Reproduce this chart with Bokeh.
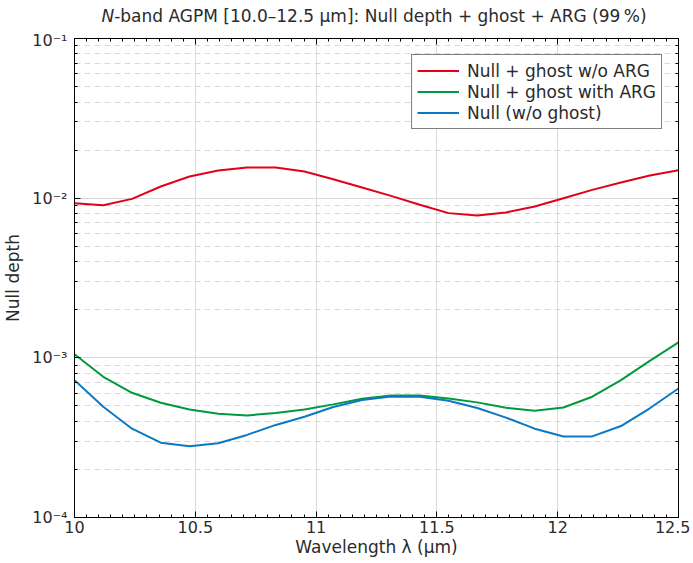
from bokeh.plotting import figure
from bokeh.layouts import column
from bokeh.models import (Range1d, LinearAxis, LogAxis, FixedTicker, SingleIntervalTicker,
                          CustomJSTickFormatter, Legend, LegendItem, Div)
from bokeh.embed import file_html
from bokeh.resources import INLINE

# ---- data ----
wavelength = [10.0, 10.119, 10.238, 10.357, 10.476, 10.595, 10.714, 10.833, 10.952, 11.071, 11.190,
              11.310, 11.429, 11.548, 11.667, 11.786, 11.905, 12.024, 12.143, 12.262, 12.381, 12.5]
null_ghost_no_arg = [9.30e-3, 9.04e-3, 9.90e-3, 1.183e-2, 1.366e-2, 1.489e-2, 1.555e-2, 1.555e-2,
                     1.468e-2, 1.314e-2, 1.166e-2, 1.034e-2, 9.09e-3, 8.06e-3, 7.79e-3, 8.14e-3,
                     8.87e-3, 1.000e-2, 1.127e-2, 1.253e-2, 1.386e-2, 1.497e-2]
null_ghost_arg = [1.054e-3, 7.61e-4, 6.04e-4, 5.23e-4, 4.75e-4, 4.47e-4, 4.36e-4, 4.51e-4,
                  4.75e-4, 5.11e-4, 5.54e-4, 5.81e-4, 5.81e-4, 5.57e-4, 5.26e-4, 4.87e-4,
                  4.66e-4, 4.89e-4, 5.71e-4, 7.25e-4, 9.58e-4, 1.25e-3]
null_only = [7.25e-4, 4.94e-4, 3.60e-4, 2.94e-4, 2.79e-4, 2.92e-4, 3.29e-4, 3.80e-4,
             4.28e-4, 4.92e-4, 5.44e-4, 5.73e-4, 5.71e-4, 5.39e-4, 4.85e-4, 4.22e-4,
             3.60e-4, 3.22e-4, 3.22e-4, 3.74e-4, 4.83e-4, 6.43e-4]
series_labels = ["Null + ghost w/o ARG", "Null + ghost with ARG", "Null (w/o ghost)"]
series_colors = ["#e2001a", "#009a3e", "#0a78c4"]
y_ticks = [1e-4, 1e-3, 1e-2, 1e-1]
y_minor = [m * d for d in (1e-4, 1e-3, 1e-2) for m in range(1, 10)] + [1e-1]
title_italic = "N"
title_rest = "-band AGPM [10.0\u201312.5 \u00b5m]: Null depth + ghost + ARG (99\u2009%)"
x_label = "Wavelength \u03bb (\u00b5m)"
y_label = "Null depth"

FONT = "DejaVu Sans"
TXT = "#2b2b2b"
GRID = "#d9d9d9"
W = 690

title_div = Div(
    text=(f'<div style="font-family:\'{FONT}\';font-size:17px;color:{TXT};text-align:center;'
          f'line-height:32px;height:30px;width:{W}px;padding-left:70px;padding-right:12px;'
          f'box-sizing:border-box;white-space:nowrap;"><i>{title_italic}</i>{title_rest}</div>'),
    width=W, height=30, margin=0)

p = figure(width=W, height=530, y_axis_type="log", output_backend="svg",
           toolbar_location=None, title=None,
           x_range=Range1d(10, 12.5), y_range=Range1d(1e-4, 1e-1),
           min_border_left=70, min_border_right=12, min_border_top=8, min_border_bottom=43)
p.outline_line_color = "black"
p.outline_line_width = 1
p.background_fill_color = "white"
p.border_fill_color = "white"

xt = SingleIntervalTicker(interval=0.5, num_minor_ticks=10)
yt = FixedTicker(ticks=y_ticks, minor_ticks=y_minor)
xfmt = CustomJSTickFormatter(code="return String(Math.round(tick*10)/10);")
yfmt = CustomJSTickFormatter(code="""
const sup = {'-':'\u207b','0':'\u2070','1':'\u00b9','2':'\u00b2','3':'\u00b3','4':'\u2074','5':'\u2075'};
const e = Math.round(Math.log10(tick));
return '10' + String(e).split('').map(c => sup[c]).join('');
""")
blank = CustomJSTickFormatter(code="return '';")

def style_axis(ax, show):
    ax.axis_line_color = "black"
    ax.major_tick_in = 6
    ax.major_tick_out = 0
    ax.minor_tick_in = 3
    ax.minor_tick_out = 0
    ax.major_tick_line_color = "black"
    ax.minor_tick_line_color = "black"
    ax.major_label_text_font = FONT
    ax.major_label_text_color = TXT
    if show:
        ax.major_label_text_font_size = "16px"
    else:
        ax.major_label_text_font_size = "0px"
        ax.major_label_standoff = 0

xa = p.xaxis[0]
xa.ticker = xt
xa.formatter = xfmt
style_axis(xa, True)
xa.major_label_standoff = 3
xa.axis_label = x_label
xa.axis_label_text_font = FONT
xa.axis_label_text_font_size = "17px"
xa.axis_label_text_font_style = "normal"
xa.axis_label_text_color = TXT
xa.axis_label_standoff = 1

ya = p.yaxis[0]
ya.ticker = yt
ya.formatter = yfmt
style_axis(ya, True)
ya.major_label_standoff = 7
ya.axis_label = y_label
ya.axis_label_text_font = FONT
ya.axis_label_text_font_size = "17px"
ya.axis_label_text_font_style = "normal"
ya.axis_label_text_color = TXT
ya.axis_label_standoff = 6

top = LinearAxis(ticker=xt, formatter=blank)
style_axis(top, False)
p.add_layout(top, "above")
right = LogAxis(ticker=yt, formatter=blank)
style_axis(right, False)
p.add_layout(right, "right")

p.xgrid.ticker = xt
p.xgrid.grid_line_color = GRID
p.ygrid.ticker = yt
p.ygrid.grid_line_color = GRID
p.ygrid.minor_grid_line_color = GRID
p.ygrid.minor_grid_line_dash = "6 4"

items = []
for ys, lab, col in zip([null_ghost_no_arg, null_ghost_arg, null_only], series_labels, series_colors):
    r = p.line(wavelength, ys, line_color=col, line_width=2)
    items.append(LegendItem(label=lab, renderers=[r]))

leg = Legend(items=items, location="top_right", margin=16, padding=5, spacing=0,
             glyph_width=42, glyph_height=21, label_height=21, label_standoff=8,
             label_text_font=FONT, label_text_font_size="17px", label_text_color=TXT,
             border_line_color="black", border_line_width=1, background_fill_alpha=1.0)
p.add_layout(leg)

layout = column(title_div, p, spacing=0)
open("out.html", "w").write(file_html(layout, INLINE))
